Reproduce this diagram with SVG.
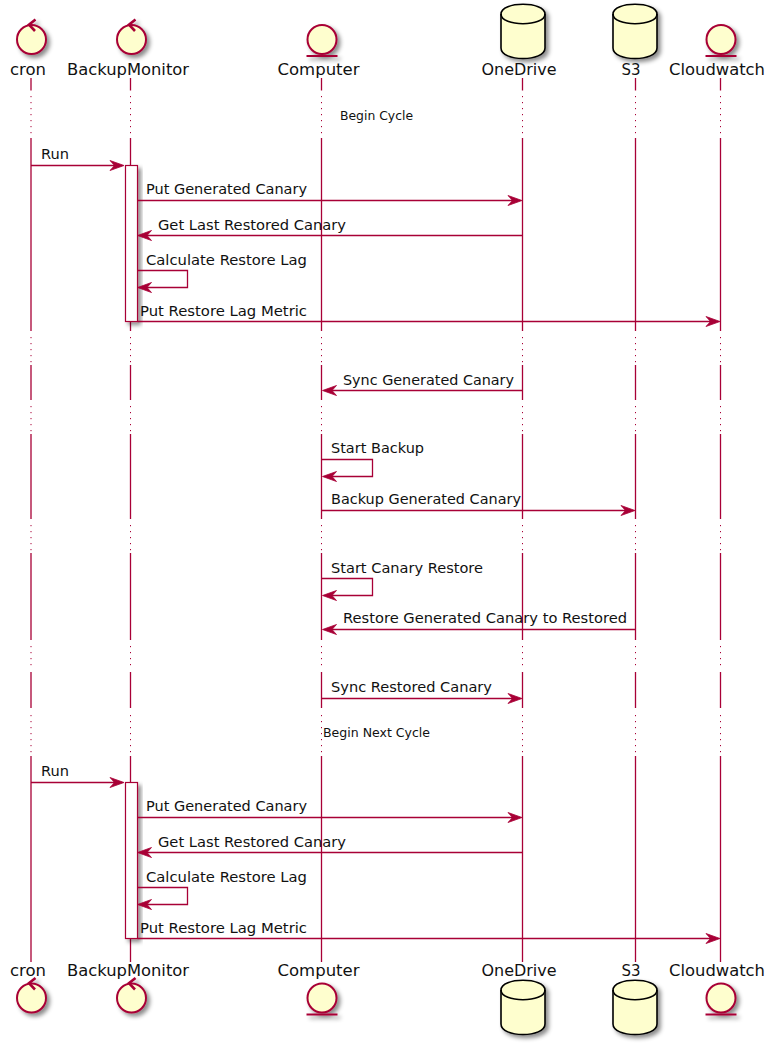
<svg xmlns="http://www.w3.org/2000/svg" width="779" height="1047" viewBox="0 0 779 1047">
<style>
text{font-family:"DejaVu Sans","Liberation Sans",sans-serif;fill:#111}
.h{font-size:16px;text-anchor:start}
.m{font-size:14px}
.n{font-size:12px}
.l{stroke:#A80036;stroke-width:1.3;fill:none}
.d{stroke:#A80036;stroke-width:1;fill:none;stroke-dasharray:1.2 4.8}
.i{fill:#FEFECE;stroke:#A80036;stroke-width:2}
.c{fill:#FEFECE;stroke:#000;stroke-width:1.6}
.e{fill:none;stroke:#000;stroke-width:1.6}
.a{fill:#fff;stroke:#A80036;stroke-width:1.2}
.s{fill:#A80036;stroke:#A80036;stroke-width:0.8;stroke-linejoin:miter}
.k{fill:none;stroke:#A80036;stroke-width:2.6;stroke-linejoin:miter}
</style>
<defs>
<filter id="sh" x="-30%" y="-30%" width="170%" height="170%"><feDropShadow dx="3" dy="3" stdDeviation="2" flood-color="#000" flood-opacity="0.45"/></filter>
<polygon id="ar" class="s" points="0,0 -14,-5 -9.500,0 -14,5"/>
<polygon id="al" class="s" points="0,0 14,-5 9.500,0 14,5"/>
<g id="ctl"><circle class="i" cx="0" cy="0" r="14.500"/><path class="k" d="M4,-20 L-2.500,-14.800 L3.500,-8.500"/></g>
<g id="ent"><circle class="i" cx="0" cy="0" r="14.500"/><path class="l" style="stroke-width:2" d="M-15.500,16.500 H15.500"/></g>
<g id="db"><path class="c" d="M-22,10 C-22,-3 22,-3 22,10 V44 C22,58 -22,58 -22,44 Z"/><path class="e" d="M-22,10 C-22,23 22,23 22,10"/></g>
</defs>

<g id="lifelines">
<path class="l" d="M31,78V90.500M31,138V331M31,365V400M31,434V519M31,553V640M31,672V708M31,756V962"/>
<path class="l" d="M130.500,78V90.500M130.500,138V331M130.500,365V400M130.500,434V519M130.500,553V640M130.500,672V708M130.500,756V962"/>
<path class="l" d="M321.500,78V90.500M321.500,138V331M321.500,365V400M321.500,434V519M321.500,553V640M321.500,672V708M321.500,756V962"/>
<path class="l" d="M522.500,78V90.500M522.500,138V331M522.500,365V400M522.500,434V519M522.500,553V640M522.500,672V708M522.500,756V962"/>
<path class="l" d="M635.500,78V90.500M635.500,138V331M635.500,365V400M635.500,434V519M635.500,553V640M635.500,672V708M635.500,756V962"/>
<path class="l" d="M720.500,78V90.500M720.500,138V331M720.500,365V400M720.500,434V519M720.500,553V640M720.500,672V708M720.500,756V962"/>
<path class="d" d="M31,96V134M31,337V363M31,406V432M31,525V551M31,646V670M31,715V753"/>
<path class="d" d="M130.500,96V134M130.500,337V363M130.500,406V432M130.500,525V551M130.500,646V670M130.500,715V753"/>
<path class="d" d="M321.500,96V134M321.500,337V363M321.500,406V432M321.500,525V551M321.500,646V670M321.500,715V753"/>
<path class="d" d="M522.500,96V134M522.500,337V363M522.500,406V432M522.500,525V551M522.500,646V670M522.500,715V753"/>
<path class="d" d="M635.500,96V134M635.500,337V363M635.500,406V432M635.500,525V551M635.500,646V670M635.500,715V753"/>
<path class="d" d="M720.500,96V134M720.500,337V363M720.500,406V432M720.500,525V551M720.500,646V670M720.500,715V753"/>
</g>

<g id="activations">
<rect class="a" x="125.500" y="165.500" width="12" height="156" filter="url(#sh)"/>
<rect class="a" x="125.500" y="782.500" width="12" height="156" filter="url(#sh)"/>
</g>

<g id="cron"><use href="#ctl" x="31.500" y="39.500" filter="url(#sh)"/><text class="h" x="10" y="75" textLength="36" lengthAdjust="spacingAndGlyphs">cron</text><use href="#ctl" x="31.500" y="998" filter="url(#sh)"/><text class="h" x="10" y="976" textLength="36" lengthAdjust="spacingAndGlyphs">cron</text></g>
<g id="BackupMonitor"><use href="#ctl" x="131.500" y="39.500" filter="url(#sh)"/><text class="h" x="67" y="75" textLength="122" lengthAdjust="spacingAndGlyphs">BackupMonitor</text><use href="#ctl" x="131.500" y="998" filter="url(#sh)"/><text class="h" x="67" y="976" textLength="122" lengthAdjust="spacingAndGlyphs">BackupMonitor</text></g>
<g id="Computer"><use href="#ent" x="322" y="39.500" filter="url(#sh)"/><text class="h" x="277.500" y="75" textLength="82" lengthAdjust="spacingAndGlyphs">Computer</text><use href="#ent" x="322" y="998" filter="url(#sh)"/><text class="h" x="277.500" y="976" textLength="82" lengthAdjust="spacingAndGlyphs">Computer</text></g>
<g id="OneDrive"><use href="#db" x="523" y="4" filter="url(#sh)"/><text class="h" x="481.500" y="75" textLength="75" lengthAdjust="spacingAndGlyphs">OneDrive</text><use href="#db" x="523" y="980" filter="url(#sh)"/><text class="h" x="481.500" y="976" textLength="75" lengthAdjust="spacingAndGlyphs">OneDrive</text></g>
<g id="S3"><use href="#db" x="635" y="4" filter="url(#sh)"/><text class="h" x="621.500" y="75" textLength="19" lengthAdjust="spacingAndGlyphs">S3</text><use href="#db" x="635" y="980" filter="url(#sh)"/><text class="h" x="621.500" y="976" textLength="19" lengthAdjust="spacingAndGlyphs">S3</text></g>
<g id="Cloudwatch"><use href="#ent" x="721" y="39.500" filter="url(#sh)"/><text class="h" x="669" y="75" textLength="96" lengthAdjust="spacingAndGlyphs">Cloudwatch</text><use href="#ent" x="721" y="998" filter="url(#sh)"/><text class="h" x="669" y="976" textLength="96" lengthAdjust="spacingAndGlyphs">Cloudwatch</text></g>

<g id="connectors">
<path class="l" d="M31,165.500H118M137.500,200.500H516M522,235.500H144M137.500,270.500H187.500V287.500H144M137.500,321.500H714M522,390.500H328M321.500,459.500H372.500V476.500H328M321.500,510.500H629M321.500,578.500H372.500V595.500H328M635,629.500H328M321.500,698.500H516M31,782.500H118M137.500,817.500H516M522,852.500H144M137.500,887.500H187.500V904.500H144M137.500,938.500H714"/>
<use href="#ar" x="124" y="165.500"/><use href="#ar" x="522" y="200.500"/><use href="#al" x="137.500" y="235.500"/><use href="#al" x="137.500" y="287.500"/><use href="#ar" x="720" y="321.500"/><use href="#al" x="322.500" y="390.500"/><use href="#al" x="322.500" y="476.500"/><use href="#ar" x="635" y="510.500"/><use href="#al" x="322.500" y="595.500"/><use href="#al" x="322.500" y="629.500"/><use href="#ar" x="522" y="698.500"/><use href="#ar" x="124" y="782.500"/><use href="#ar" x="522" y="817.500"/><use href="#al" x="137.500" y="852.500"/><use href="#al" x="137.500" y="904.500"/><use href="#ar" x="720" y="938.500"/>
</g>

<g id="labels">
<text class="n" x="340" y="120" textLength="73" lengthAdjust="spacingAndGlyphs">Begin Cycle</text>
<text class="m" x="41" y="159" textLength="28" lengthAdjust="spacingAndGlyphs">Run</text>
<text class="m" x="146" y="194" textLength="161" lengthAdjust="spacingAndGlyphs">Put Generated Canary</text>
<text class="m" x="158" y="230" textLength="188" lengthAdjust="spacingAndGlyphs">Get Last Restored Canary</text>
<text class="m" x="146" y="265" textLength="161" lengthAdjust="spacingAndGlyphs">Calculate Restore Lag</text>
<text class="m" x="140" y="316" textLength="167" lengthAdjust="spacingAndGlyphs">Put Restore Lag Metric</text>
<text class="m" x="343" y="385" textLength="171" lengthAdjust="spacingAndGlyphs">Sync Generated Canary</text>
<text class="m" x="331" y="453" textLength="93" lengthAdjust="spacingAndGlyphs">Start Backup</text>
<text class="m" x="331" y="504" textLength="190" lengthAdjust="spacingAndGlyphs">Backup Generated Canary</text>
<text class="m" x="331" y="573" textLength="152" lengthAdjust="spacingAndGlyphs">Start Canary Restore</text>
<text class="m" x="343" y="623" textLength="284" lengthAdjust="spacingAndGlyphs">Restore Generated Canary to Restored</text>
<text class="m" x="331" y="692" textLength="161" lengthAdjust="spacingAndGlyphs">Sync Restored Canary</text>
<text class="n" x="323" y="737" textLength="107" lengthAdjust="spacingAndGlyphs">Begin Next Cycle</text>
<text class="m" x="41" y="776" textLength="28" lengthAdjust="spacingAndGlyphs">Run</text>
<text class="m" x="146" y="811" textLength="161" lengthAdjust="spacingAndGlyphs">Put Generated Canary</text>
<text class="m" x="158" y="847" textLength="188" lengthAdjust="spacingAndGlyphs">Get Last Restored Canary</text>
<text class="m" x="146" y="882" textLength="161" lengthAdjust="spacingAndGlyphs">Calculate Restore Lag</text>
<text class="m" x="140" y="933" textLength="167" lengthAdjust="spacingAndGlyphs">Put Restore Lag Metric</text>
</g>
</svg>
